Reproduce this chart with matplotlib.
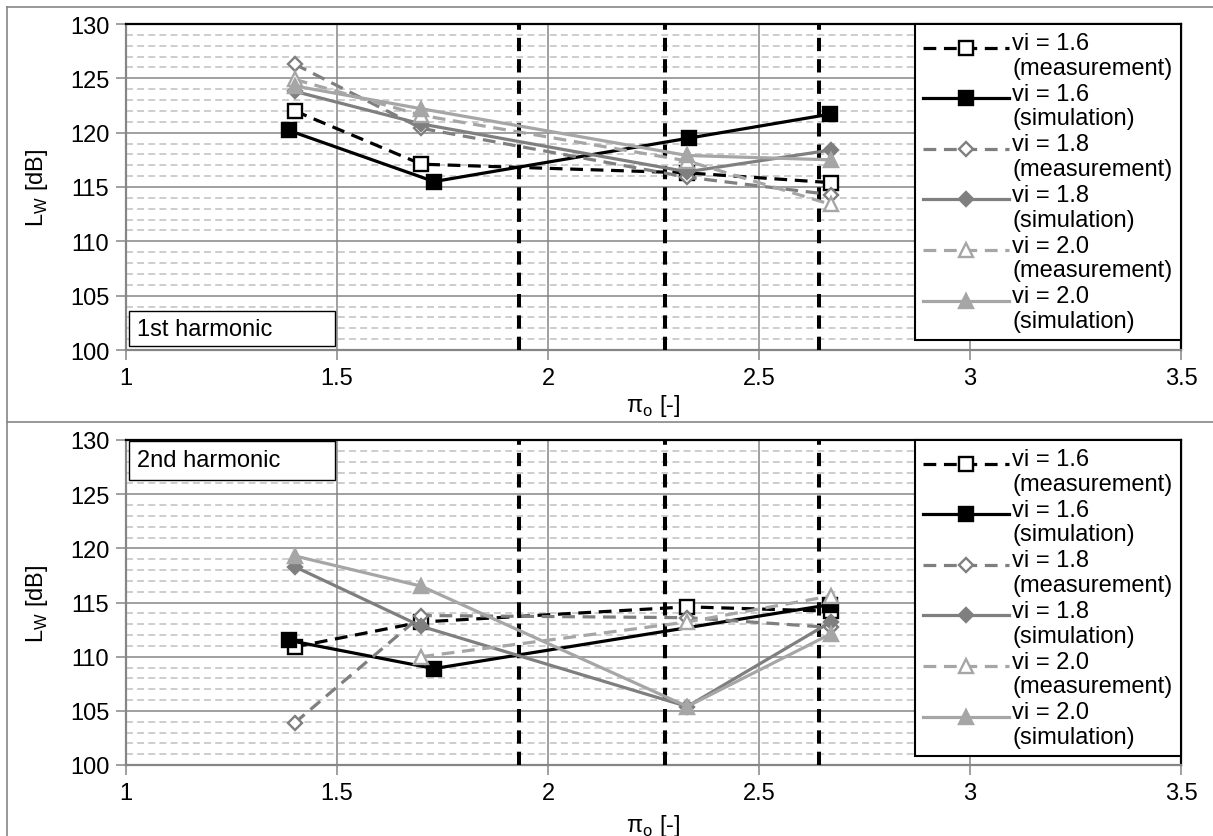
import matplotlib
matplotlib.use("Agg")
import matplotlib.pyplot as plt
from matplotlib.lines import Line2D
from matplotlib.patches import Rectangle
from matplotlib.ticker import MultipleLocator
from matplotlib.legend_handler import HandlerLine2D

plt.rcParams['font.family'] = ['Liberation Sans', 'DejaVu Sans']
FS = 17
plt.rcParams['font.size'] = FS

# operating points (pressure ratio pi_o)
pi_meas = [1.40, 1.70, 2.33, 2.67]
pi_sim = [1.40, 1.70, 2.33, 2.67]
pi_sim16 = [1.386, 1.73, 2.334, 2.668]

# 1st harmonic, sound power level L_W [dB]
h1_meas16 = [122.0, 117.1, 116.3, 115.4]
h1_sim16 = [120.2, 115.5, 119.5, 121.7]
h1_meas18 = [126.3, 120.4, 115.9, 114.3]
h1_sim18 = [123.8, 120.8, 116.4, 118.4]
h1_meas20 = [124.9, 121.6, 117.4, 113.4]
h1_sim20 = [124.3, 122.2, 117.9, 117.5]

# 2nd harmonic, sound power level L_W [dB]
pi_h2_sim16 = [1.386, 1.73, 2.668]
pi_h2_meas20 = [1.70, 2.33, 2.67]
h2_meas16 = [110.9, 113.2, 114.6, 114.2]
h2_sim16 = [111.5, 108.9, 114.8]
h2_meas18 = [103.9, 113.8, 113.6, 112.7]
h2_sim18 = [118.3, 112.8, 105.4, 113.2]
h2_meas20 = [110.0, 113.2, 115.6]
h2_sim20 = [119.3, 116.5, 105.4, 112.1]

# reference pressure ratios
ref_pi = [1.931, 2.277, 2.641]

labels = ["vi = 1.6\n(measurement)", "vi = 1.6\n(simulation)",
          "vi = 1.8\n(measurement)", "vi = 1.8\n(simulation)",
          "vi = 2.0\n(measurement)", "vi = 2.0\n(simulation)"]
panel_titles = ["1st harmonic", "2nd harmonic"]

C16, C18, C20 = "#000000", "#7f7f7f", "#a6a6a6"
GRID = "#868686"
MINOR = "#c0c0c0"

W, H = 1213, 837
fig = plt.figure(figsize=(W / 100, H / 100), dpi=100)


def fx(px):
    return px / W


def fy(py):
    return 1 - py / H


class FirstLineHandler(HandlerLine2D):
    """Line handle aligned with the first line of a two-line label."""

    def __init__(self, shift, **kw):
        super().__init__(**kw)
        self.shift = shift

    def create_artists(self, legend, orig_handle, xdescent, ydescent, width,
                       height, fontsize, trans):
        return super().create_artists(legend, orig_handle, xdescent,
                                      ydescent - self.shift, width, height,
                                      fontsize, trans)


# chart area frames
for seg in [((7, 1213), (8, 8)), ((7, 1213), (423, 423)), ((7, 7), (8, 837))]:
    fig.add_artist(Line2D([fx(seg[0][0]), fx(seg[0][1])],
                          [fy(seg[1][0]), fy(seg[1][1])],
                          color=GRID, lw=1.2, transform=fig.transFigure))

ax_left, ax_right = 126, 1181
panels = [(25, 351), (441, 766)]


def style(kind, color, marker, ms):
    kw = dict(color=color, lw=2.3, marker=marker, ms=ms, mec=color, mew=1.7,
              zorder=4)
    if kind == "meas":
        kw.update(dashes=(4, 2.4), mfc="white")
    else:
        kw.update(mfc=color)
    return kw


data = [
    [(pi_meas, h1_meas16), (pi_sim16, h1_sim16), (pi_meas, h1_meas18),
     (pi_sim, h1_sim18), (pi_meas, h1_meas20), (pi_sim, h1_sim20)],
    [(pi_meas, h2_meas16), (pi_h2_sim16, h2_sim16), (pi_meas, h2_meas18),
     (pi_sim, h2_sim18), (pi_h2_meas20, h2_meas20), (pi_sim, h2_sim20)],
]
styles = [style("meas", C16, "s", 10), style("sim", C16, "s", 10),
          style("meas", C18, "D", 7.5), style("sim", C18, "D", 7.5),
          style("meas", C20, "^", 9.5), style("sim", C20, "^", 9.5)]

for i, (top, bot) in enumerate(panels):
    ax = fig.add_axes([fx(ax_left), fy(bot), fx(ax_right - ax_left),
                       (bot - top) / H])
    ax.set_xlim(1, 3.5)
    ax.set_ylim(100, 130)
    ax.yaxis.set_major_locator(MultipleLocator(5))
    ax.yaxis.set_minor_locator(MultipleLocator(1))
    ax.set_xticks([1, 1.5, 2, 2.5, 3, 3.5])
    ax.set_xticklabels(["1", "1.5", "2", "2.5", "3", "3.5"])
    ax.grid(which="major", color=GRID, lw=1.1, zorder=0)
    ax.grid(which="minor", axis="y", color=MINOR, lw=1.1,
            dashes=(4.5, 2.8), zorder=0)
    ax.set_axisbelow(True)
    ax.tick_params(which="major", direction="out", length=7, width=1.1,
                   color=GRID, pad=5, labelsize=FS)
    ax.tick_params(which="minor", length=0)
    for s in ["left", "bottom"]:
        ax.spines[s].set_color(GRID)
        ax.spines[s].set_linewidth(1.6)
    for s in ["top", "right"]:
        ax.spines[s].set_color("black")
        ax.spines[s].set_linewidth(1.6)

    for xv in ref_pi:
        ax.plot([xv, xv], [100, 130], color="black", lw=2.9,
                dashes=(3.3, 2.0), zorder=3)

    handles = []
    for (xs, ys), kw, lab in zip(data[i], styles, labels):
        h, = ax.plot(xs, ys, label=lab, **kw)
        handles.append(h)

    hmap = {h: FirstLineHandler(shift=11.5) for h in handles}
    leg = ax.legend(handles=handles, loc="upper right",
                    bbox_to_anchor=(1, 1), borderaxespad=0, fontsize=FS,
                    handlelength=3.65, handletextpad=0.15, borderpad=0.35,
                    labelspacing=0.17, numpoints=1, fancybox=False,
                    framealpha=1, edgecolor="black", handler_map=hmap)
    leg.get_frame().set_linewidth(1.5)
    leg.set_zorder(10)
    for t in leg.get_texts():
        t.set_linespacing(1.15)

    ax.set_xlabel("π$_{\\mathregular{o}}$ [-]", fontsize=FS)
    ax.xaxis.label.set_va("center")
    ax.xaxis.set_label_coords(0.5, -0.168 if i == 0 else -0.185)
    ax.set_ylabel("L$_{\\mathregular{W}}$ [dB]", fontsize=FS)
    ax.yaxis.label.set_va("center")
    ax.yaxis.set_label_coords(-0.084, 0.5)

    # panel caption box
    if i == 0:
        y0, y1 = (bot - 347) / (bot - top), (bot - 312) / (bot - top)
    else:
        y0, y1 = (bot - 481) / (bot - top), (bot - 442) / (bot - top)
    x0, x1 = (129 - ax_left) / 1055, (335 - ax_left) / 1055
    ax.add_patch(Rectangle((x0, y0), x1 - x0, y1 - y0, transform=ax.transAxes,
                           fc="white", ec="black", lw=1.0, zorder=8,
                           clip_on=False))
    ax.text((137 - ax_left) / 1055, (y0 + y1) / 2, panel_titles[i],
            transform=ax.transAxes, ha="left", va="center", fontsize=FS,
            zorder=9)

fig.savefig("out.png", dpi=100)
